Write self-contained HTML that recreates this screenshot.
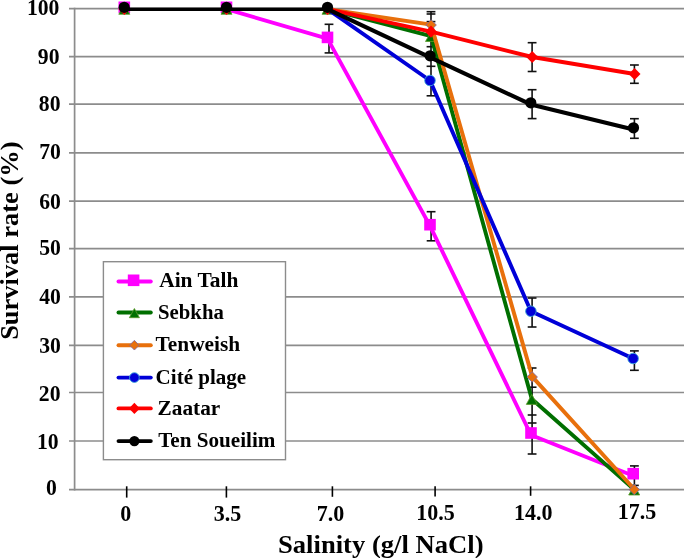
<!DOCTYPE html><html><head><meta charset="utf-8"><style>
html,body{margin:0;padding:0;background:#fff;width:685px;height:558px;overflow:hidden}
svg{display:block;will-change:transform}
text{font-family:"Liberation Serif",serif;font-weight:bold;fill:#000}
</style></head><body>
<svg width="685" height="558" viewBox="0 0 685 558">
<rect width="685" height="558" fill="#fff"/>
<line x1="69" y1="489.60" x2="684" y2="489.60" stroke="#8c8c8c" stroke-width="1.7"/>
<line x1="69" y1="441.00" x2="684" y2="441.00" stroke="#8c8c8c" stroke-width="1.7"/>
<line x1="69" y1="392.50" x2="684" y2="392.50" stroke="#8c8c8c" stroke-width="1.7"/>
<line x1="69" y1="345.30" x2="684" y2="345.30" stroke="#8c8c8c" stroke-width="1.7"/>
<line x1="69" y1="296.90" x2="684" y2="296.90" stroke="#8c8c8c" stroke-width="1.7"/>
<line x1="69" y1="248.70" x2="684" y2="248.70" stroke="#8c8c8c" stroke-width="1.7"/>
<line x1="69" y1="201.10" x2="684" y2="201.10" stroke="#8c8c8c" stroke-width="1.7"/>
<line x1="69" y1="152.80" x2="684" y2="152.80" stroke="#8c8c8c" stroke-width="1.7"/>
<line x1="69" y1="104.20" x2="684" y2="104.20" stroke="#8c8c8c" stroke-width="1.7"/>
<line x1="69" y1="56.70" x2="684" y2="56.70" stroke="#8c8c8c" stroke-width="1.7"/>
<line x1="69" y1="8.60" x2="684" y2="8.60" stroke="#8c8c8c" stroke-width="1.7"/>
<line x1="74.6" y1="7.80" x2="74.6" y2="490.40" stroke="#8c8c8c" stroke-width="1.7"/>
<line x1="126.7" y1="486.3" x2="126.7" y2="497.6" stroke="#000" stroke-width="1.6"/>
<line x1="226.4" y1="486.3" x2="226.4" y2="497.6" stroke="#000" stroke-width="1.6"/>
<line x1="332.4" y1="486.3" x2="332.4" y2="496.8" stroke="#000" stroke-width="1.6"/>
<line x1="435.1" y1="486.3" x2="435.1" y2="496.6" stroke="#000" stroke-width="1.6"/>
<line x1="530.6" y1="486.3" x2="530.6" y2="495.8" stroke="#000" stroke-width="1.6"/>
<text transform="translate(59.40,14.52) scale(0.985,1.08)" font-size="22" text-anchor="end">100</text>
<text transform="translate(59.50,63.52) scale(0.985,1.08)" font-size="22" text-anchor="end">90</text>
<text transform="translate(60.50,111.27) scale(0.985,1.08)" font-size="22" text-anchor="end">80</text>
<text transform="translate(60.90,158.97) scale(0.985,1.08)" font-size="22" text-anchor="end">70</text>
<text transform="translate(60.90,208.87) scale(0.985,1.08)" font-size="22" text-anchor="end">60</text>
<text transform="translate(60.90,254.57) scale(0.985,1.08)" font-size="22" text-anchor="end">50</text>
<text transform="translate(60.90,303.87) scale(0.985,1.08)" font-size="22" text-anchor="end">40</text>
<text transform="translate(60.90,352.97) scale(0.985,1.08)" font-size="22" text-anchor="end">30</text>
<text transform="translate(60.50,400.87) scale(0.985,1.08)" font-size="22" text-anchor="end">20</text>
<text transform="translate(58.60,448.82) scale(0.985,1.08)" font-size="22" text-anchor="end">10</text>
<text transform="translate(56.90,495.27) scale(0.985,1.08)" font-size="22" text-anchor="end">0</text>
<text transform="translate(125.8,520.7) scale(1,1.04)" font-size="22" text-anchor="middle">0</text>
<text transform="translate(227.5,520.7) scale(1,1.04)" font-size="22" text-anchor="middle">3.5</text>
<text transform="translate(330.6,521.0) scale(1,1.04)" font-size="22" text-anchor="middle">7.0</text>
<text transform="translate(435.6,520.1) scale(1,1.04)" font-size="22" text-anchor="middle">10.5</text>
<text transform="translate(533.3,519.5) scale(1,1.04)" font-size="22" text-anchor="middle">14.0</text>
<text transform="translate(637.0,519.3) scale(1,1.04)" font-size="22" text-anchor="middle">17.5</text>
<text x="278" y="552.6" font-size="26" textLength="205.5" lengthAdjust="spacingAndGlyphs">Salinity (g/l NaCl)</text>
<text transform="translate(17.7,240.7) rotate(-90)" x="0" y="0" font-size="26" text-anchor="middle" textLength="198.3" lengthAdjust="spacingAndGlyphs">Survival rate (%)</text>
<line x1="329.0" y1="24.3" x2="329.0" y2="52.9" stroke="#111" stroke-width="1.6"/><line x1="324.60" y1="24.3" x2="333.40" y2="24.3" stroke="#111" stroke-width="1.6"/><line x1="324.60" y1="52.9" x2="333.40" y2="52.9" stroke="#111" stroke-width="1.6"/><line x1="431.0" y1="11.7" x2="431.0" y2="95.8" stroke="#111" stroke-width="1.6"/><line x1="426.60" y1="11.7" x2="435.40" y2="11.7" stroke="#111" stroke-width="1.6"/><line x1="426.60" y1="14.0" x2="435.40" y2="14.0" stroke="#111" stroke-width="1.6"/><line x1="426.60" y1="21.6" x2="435.40" y2="21.6" stroke="#111" stroke-width="1.6"/><line x1="426.60" y1="46.7" x2="435.40" y2="46.7" stroke="#111" stroke-width="1.6"/><line x1="426.60" y1="66.3" x2="435.40" y2="66.3" stroke="#111" stroke-width="1.6"/><line x1="426.60" y1="95.8" x2="435.40" y2="95.8" stroke="#111" stroke-width="1.6"/><line x1="431.1" y1="211.7" x2="431.1" y2="240.8" stroke="#111" stroke-width="1.6"/><line x1="426.70" y1="211.7" x2="435.50" y2="211.7" stroke="#111" stroke-width="1.6"/><line x1="426.70" y1="240.8" x2="435.50" y2="240.8" stroke="#111" stroke-width="1.6"/><line x1="532.1" y1="42.7" x2="532.1" y2="71.5" stroke="#111" stroke-width="1.6"/><line x1="532.1" y1="89.7" x2="532.1" y2="118.6" stroke="#111" stroke-width="1.6"/><line x1="532.1" y1="298" x2="532.1" y2="327" stroke="#111" stroke-width="1.6"/><line x1="532.1" y1="368" x2="532.1" y2="454" stroke="#111" stroke-width="1.6"/><line x1="527.70" y1="42.7" x2="536.50" y2="42.7" stroke="#111" stroke-width="1.6"/><line x1="527.70" y1="71.5" x2="536.50" y2="71.5" stroke="#111" stroke-width="1.6"/><line x1="527.70" y1="89.7" x2="536.50" y2="89.7" stroke="#111" stroke-width="1.6"/><line x1="527.70" y1="118.6" x2="536.50" y2="118.6" stroke="#111" stroke-width="1.6"/><line x1="527.70" y1="298" x2="536.50" y2="298" stroke="#111" stroke-width="1.6"/><line x1="527.70" y1="327" x2="536.50" y2="327" stroke="#111" stroke-width="1.6"/><line x1="527.70" y1="368" x2="536.50" y2="368" stroke="#111" stroke-width="1.6"/><line x1="527.70" y1="387.2" x2="536.50" y2="387.2" stroke="#111" stroke-width="1.6"/><line x1="527.70" y1="415" x2="536.50" y2="415" stroke="#111" stroke-width="1.6"/><line x1="527.70" y1="423" x2="536.50" y2="423" stroke="#111" stroke-width="1.6"/><line x1="527.70" y1="454" x2="536.50" y2="454" stroke="#111" stroke-width="1.6"/><line x1="634.4" y1="65" x2="634.4" y2="83.3" stroke="#111" stroke-width="1.6"/><line x1="634.4" y1="118.7" x2="634.4" y2="138.3" stroke="#111" stroke-width="1.6"/><line x1="634.4" y1="350.9" x2="634.4" y2="370.3" stroke="#111" stroke-width="1.6"/><line x1="634.4" y1="465.9" x2="634.4" y2="485.4" stroke="#111" stroke-width="1.6"/><line x1="630.00" y1="65" x2="638.80" y2="65" stroke="#111" stroke-width="1.6"/><line x1="630.00" y1="83.3" x2="638.80" y2="83.3" stroke="#111" stroke-width="1.6"/><line x1="630.00" y1="118.7" x2="638.80" y2="118.7" stroke="#111" stroke-width="1.6"/><line x1="630.00" y1="138.3" x2="638.80" y2="138.3" stroke="#111" stroke-width="1.6"/><line x1="630.00" y1="350.9" x2="638.80" y2="350.9" stroke="#111" stroke-width="1.6"/><line x1="630.00" y1="370.3" x2="638.80" y2="370.3" stroke="#111" stroke-width="1.6"/><line x1="630.00" y1="465.9" x2="638.80" y2="465.9" stroke="#111" stroke-width="1.6"/><line x1="630.00" y1="485.4" x2="638.80" y2="485.4" stroke="#111" stroke-width="1.6"/>
<polyline points="226.50,9.20 327.50,38.60 430.00,225.90 531.00,435.00 633.20,475.70" fill="none" stroke="#ff00ff" stroke-width="3.9" stroke-linejoin="round" stroke-linecap="round"/>
<rect x="118.50" y="1.50" width="11.6" height="11.6" fill="#ff00ff"/>
<rect x="220.70" y="1.50" width="11.6" height="11.6" fill="#ff00ff"/>
<rect x="321.70" y="31.60" width="11.6" height="11.6" fill="#ff00ff"/>
<rect x="424.20" y="218.90" width="11.6" height="11.6" fill="#ff00ff"/>
<rect x="525.20" y="427.20" width="11.6" height="11.6" fill="#ff00ff"/>
<rect x="627.40" y="467.90" width="11.6" height="11.6" fill="#ff00ff"/>
<polyline points="327.50,9.20 431.00,36.10 531.80,399.00 634.20,489.60" fill="none" stroke="#006f00" stroke-width="3.9" stroke-linejoin="round" stroke-linecap="round"/>
<path d="M124.30 4.30L129.80 14.30L118.80 14.30Z" fill="#006f00" stroke="#5a9a2a" stroke-width="0.8"/>
<path d="M226.50 4.30L232.00 14.30L221.00 14.30Z" fill="#006f00" stroke="#5a9a2a" stroke-width="0.8"/>
<path d="M327.50 4.30L333.00 14.30L322.00 14.30Z" fill="#006f00" stroke="#5a9a2a" stroke-width="0.8"/>
<path d="M431.00 31.50L436.50 41.50L425.50 41.50Z" fill="#006f00" stroke="#5a9a2a" stroke-width="0.8"/>
<path d="M531.80 394.40L537.30 404.40L526.30 404.40Z" fill="#006f00" stroke="#5a9a2a" stroke-width="0.8"/>
<path d="M634.20 485.00L639.70 495.00L628.70 495.00Z" fill="#006f00" stroke="#5a9a2a" stroke-width="0.8"/>
<polyline points="327.50,9.20 431.10,24.60 532.20,376.60 634.30,489.20" fill="none" stroke="#e8700c" stroke-width="3.9" stroke-linejoin="round" stroke-linecap="round"/>
<path d="M124.30 3.75L129.55 9.00L124.30 14.25L119.05 9.00Z" fill="#e8700c" stroke="#7a68a8" stroke-width="0.8"/>
<path d="M226.50 3.75L231.75 9.00L226.50 14.25L221.25 9.00Z" fill="#e8700c" stroke="#7a68a8" stroke-width="0.8"/>
<path d="M327.50 3.75L332.75 9.00L327.50 14.25L322.25 9.00Z" fill="#e8700c" stroke="#7a68a8" stroke-width="0.8"/>
<path d="M431.10 19.75L436.35 25.00L431.10 30.25L425.85 25.00Z" fill="#e8700c" stroke="#7a68a8" stroke-width="0.8"/>
<path d="M532.20 371.75L537.45 377.00L532.20 382.25L526.95 377.00Z" fill="#e8700c" stroke="#7a68a8" stroke-width="0.8"/>
<path d="M634.30 484.35L639.55 489.60L634.30 494.85L629.05 489.60Z" fill="#e8700c" stroke="#7a68a8" stroke-width="0.8"/>
<polyline points="327.50,9.20 430.00,80.50 530.90,311.20 633.10,358.50" fill="none" stroke="#0000d8" stroke-width="3.9" stroke-linejoin="round" stroke-linecap="round"/>
<circle cx="430.00" cy="80.50" r="5.3" fill="#0000d8" stroke="#40a8d8" stroke-width="0.9"/>
<circle cx="530.90" cy="311.20" r="5.3" fill="#0000d8" stroke="#40a8d8" stroke-width="0.9"/>
<circle cx="633.10" cy="358.50" r="5.3" fill="#0000d8" stroke="#40a8d8" stroke-width="0.9"/>
<polyline points="327.50,9.20 431.00,31.70 532.20,57.00 634.60,74.00" fill="none" stroke="#ff0000" stroke-width="3.9" stroke-linejoin="round" stroke-linecap="round"/>
<path d="M124.30 2.90L130.20 9.00L124.30 15.10L118.40 9.00Z" fill="#ff0000"/>
<path d="M226.50 2.90L232.40 9.00L226.50 15.10L220.60 9.00Z" fill="#ff0000"/>
<path d="M327.50 2.90L333.40 9.00L327.50 15.10L321.60 9.00Z" fill="#ff0000"/>
<path d="M431.00 25.60L436.90 31.70L431.00 37.80L425.10 31.70Z" fill="#ff0000"/>
<path d="M532.20 50.90L538.10 57.00L532.20 63.10L526.30 57.00Z" fill="#ff0000"/>
<path d="M634.60 67.90L640.50 74.00L634.60 80.10L628.70 74.00Z" fill="#ff0000"/>
<polyline points="124.20,9.2 327.50,9.2" fill="none" stroke="#000" stroke-width="3.4"/>
<polyline points="327.50,9.20 430.10,57.40 530.80,104.40 633.50,129.40" fill="none" stroke="#000000" stroke-width="4.1" stroke-linejoin="round" stroke-linecap="round"/>
<circle cx="124.20" cy="7.30" r="5.6" fill="#000000"/>
<circle cx="226.50" cy="7.30" r="5.6" fill="#000000"/>
<circle cx="327.50" cy="7.30" r="5.6" fill="#000000"/>
<circle cx="430.10" cy="55.80" r="5.6" fill="#000000"/>
<circle cx="530.80" cy="102.80" r="5.6" fill="#000000"/>
<circle cx="633.50" cy="127.80" r="5.6" fill="#000000"/>
<rect x="103.4" y="261.7" width="182.1" height="198.0" fill="#fff" stroke="#8c8c8c" stroke-width="1.4"/>
<line x1="118.5" y1="281.5" x2="150.8" y2="281.5" stroke="#ff00ff" stroke-width="3.9" stroke-linecap="round"/>
<rect x="127.80" y="274.50" width="11.6" height="11.6" fill="#ff00ff"/>
<text x="159.2" y="286.6" font-size="20.6" textLength="79.2" lengthAdjust="spacingAndGlyphs">Ain Talh</text>
<line x1="118.5" y1="312.5" x2="150.8" y2="312.5" stroke="#006f00" stroke-width="3.9" stroke-linecap="round"/>
<path d="M134.40 308.50L139.46 317.70L129.34 317.70Z" fill="#006f00" stroke="#5a9a2a" stroke-width="0.8"/>
<text x="158.1" y="318.6" font-size="20.6" textLength="65.7" lengthAdjust="spacingAndGlyphs">Sebkha</text>
<line x1="118.5" y1="345.2" x2="150.8" y2="345.2" stroke="#e8700c" stroke-width="3.9" stroke-linecap="round"/>
<path d="M134.40 340.37L139.23 345.20L134.40 350.03L129.57 345.20Z" fill="#e8700c" stroke="#7a68a8" stroke-width="0.8"/>
<text x="155.6" y="351.4" font-size="20.6" textLength="84.6" lengthAdjust="spacingAndGlyphs">Tenweish</text>
<line x1="118.5" y1="377.6" x2="150.8" y2="377.6" stroke="#0000d8" stroke-width="3.9" stroke-linecap="round"/>
<circle cx="134.40" cy="377.60" r="4.876" fill="#0000d8" stroke="#40a8d8" stroke-width="0.9"/>
<text x="155.6" y="383.9" font-size="20.6" textLength="90.6" lengthAdjust="spacingAndGlyphs">Cité plage</text>
<line x1="118.5" y1="408.4" x2="150.8" y2="408.4" stroke="#ff0000" stroke-width="3.9" stroke-linecap="round"/>
<path d="M134.40 402.79L139.83 408.40L134.40 414.01L128.97 408.40Z" fill="#ff0000"/>
<text x="157.6" y="415.1" font-size="20.6" textLength="62.7" lengthAdjust="spacingAndGlyphs">Zaatar</text>
<line x1="118.5" y1="441.1" x2="150.8" y2="441.1" stroke="#000000" stroke-width="3.9" stroke-linecap="round"/>
<circle cx="134.40" cy="441.10" r="5.152" fill="#000000"/>
<text x="158.2" y="446.8" font-size="20.6" textLength="117.3" lengthAdjust="spacingAndGlyphs">Ten Soueilim</text>
</svg></body></html>
